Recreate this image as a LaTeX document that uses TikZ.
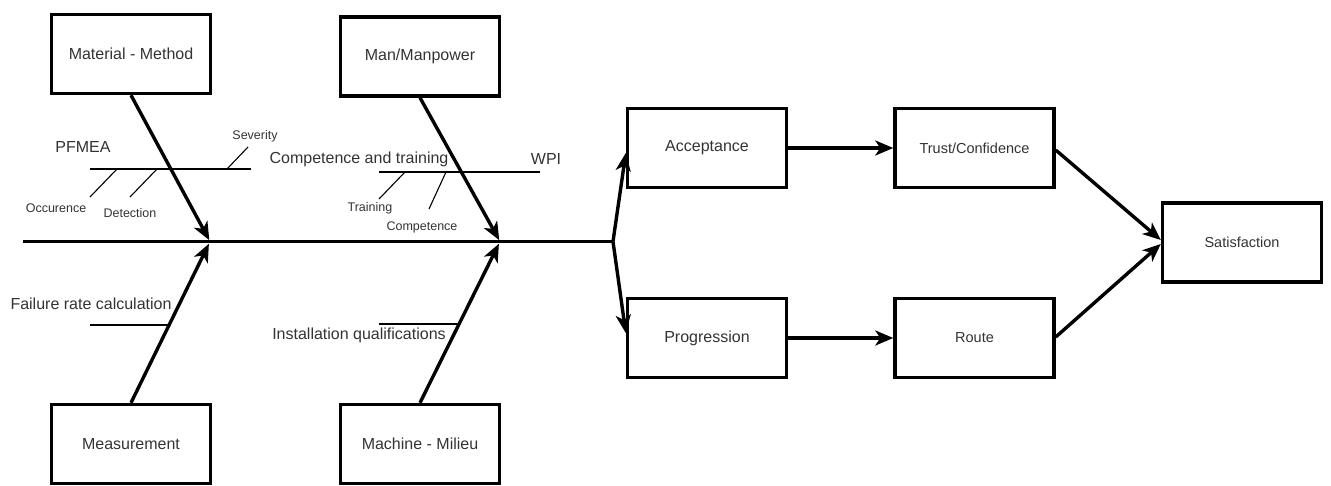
\documentclass[tikz,border=0pt]{standalone}
\usepackage{fontspec}
\setmainfont{Liberation Sans}
\usetikzlibrary{arrows.meta,calc}
\definecolor{ink}{HTML}{333333}
\tikzset{
  box/.style={draw=black, line width=3.4pt, minimum width=159pt, minimum height=79pt,
              inner sep=0pt, text=ink, font=\fontsize{16}{19}\selectfont},
  smallbox/.style={box, font=\fontsize{14.5}{17}\selectfont},
  arr/.style={line width=3.4pt, -{Stealth[length=18pt,width=15pt,inset=5pt]}},
  spine/.style={line width=3.8pt},
  bone/.style={line width=1.8pt},
  twig/.style={line width=1.1pt},
  lbl/.style={inner sep=0pt, text=ink, font=\fontsize{16}{19}\selectfont},
  tiny/.style={inner sep=0pt, text=ink, font=\fontsize{12.5}{15}\selectfont},
}
\begin{document}
\begin{tikzpicture}[x=1pt, y=-1pt]
\useasboundingbox (0,0) rectangle (1331,485);
\clip (0,0) rectangle (1331,485);

% cause boxes
\node[box] (mm) at (131,54)    {Material - Method};
\node[box] (mp) at (420,56.5)  {Man/Manpower};
\node[box] (ms) at (131,444)   {Measurement};
\node[box] (mc) at (420,444)   {Machine - Milieu};

% effect chain
\node[box]      (acc) at (707,148)    {Acceptance};
\node[box]      (prg) at (707,338)    {Progression};
\node[smallbox] (tr)  at (974.5,148)  {Trust/Confidence};
\node[smallbox] (rt)  at (974.5,338)  {Route};
\node[smallbox] (sat) at (1242,242.5) {Satisfaction};

% spine
\coordinate (tail) at (23,241.5);
\coordinate (head) at (613,241.5);
\coordinate (j1) at (210,241.5);
\coordinate (j2) at (500,241.5);
\draw[spine] (tail) -- (head);

% cause arrows into the spine
\draw[arr, shorten >=1.5pt] (mm.south) -- (j1);
\draw[arr, shorten >=1.5pt] (mp.south) -- (j2);
\draw[arr, shorten >=2.5pt] (ms.north) -- (j1);
\draw[arr, shorten >=2.5pt] (mc.north) -- (j2);

% fork into the effects
\draw[arr] (head) -- ($(acc.west)+(0,5)$);
\draw[arr] (head) -- ($(prg.west)+(0,-5)$);
\draw[arr] (acc.east) -- (tr.west);
\draw[arr] (prg.east) -- (rt.west);
\draw[arr] ($(tr.east)+(0,2)$) -- ($(sat.west)+(0,-2.5)$);
\draw[arr] ($(rt.east)+(0,-1)$) -- ($(sat.west)+(0,1.5)$);

% PFMEA branch
\node[lbl]  (pf)  at (83,147)  {PFMEA};
\node[tiny] (sev) at (255,136) {Severity};
\node[tiny] (occ) at (56,208)  {Occurence};
\node[tiny] (det) at (130,213) {Detection};
\coordinate (pfa) at (90,169);
\coordinate (pfb) at (251,169);
\draw[bone] (pfa) -- (pfb);
\coordinate (sv1) at (227,169); \coordinate (sv2) at (248,147);
\coordinate (oc1) at (117,169); \coordinate (oc2) at (90,197);
\coordinate (dt1) at (157,169); \coordinate (dt2) at (130,197);
\draw[twig] (sv1) -- (sv2);
\draw[twig] (oc1) -- (oc2);
\draw[twig] (dt1) -- (dt2);

% competence branch
\node[lbl]  (ct)  at (359,159) {Competence and training};
\node[lbl]  (wpi) at (546,159) {WPI};
\node[tiny] (trn) at (370,208) {Training};
\node[tiny] (cmp) at (422,227) {Competence};
\coordinate (cta) at (379,172);
\coordinate (ctb) at (540,172);
\draw[bone] (cta) -- (ctb);
\coordinate (tr1) at (405,172); \coordinate (tr2) at (379,199);
\coordinate (cp1) at (446,172); \coordinate (cp2) at (429,209);
\draw[twig] (tr1) -- (tr2);
\draw[twig] (cp1) -- (cp2);

% measurement branch
\node[lbl] (frc) at (91,304) {Failure rate calculation};
\coordinate (fra) at (90,325);
\coordinate (frb) at (168,325);
\draw[bone] (fra) -- (frb);

% machine branch
\node[lbl] (iq) at (359,335) {Installation qualifications};
\coordinate (iqa) at (379,324);
\coordinate (iqb) at (459,324);
\draw[bone] (iqa) -- (iqb);
\end{tikzpicture}
\end{document}
